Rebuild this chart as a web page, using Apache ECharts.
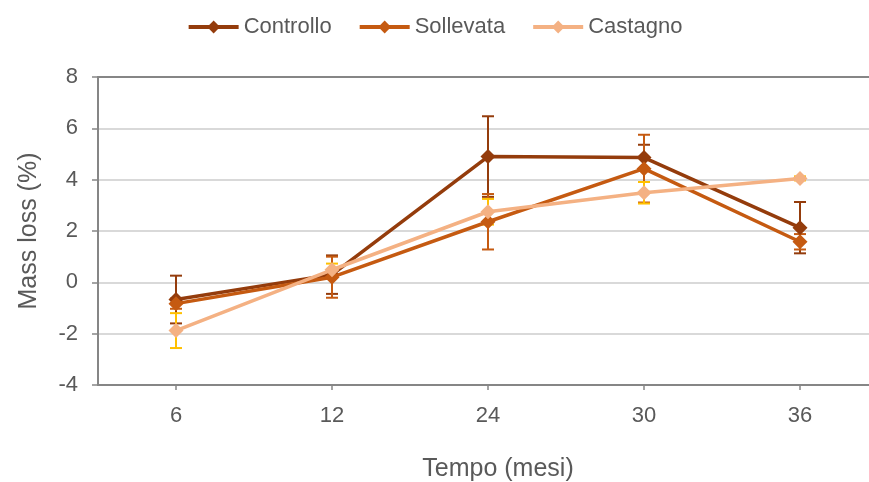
<!DOCTYPE html>
<html>
<head>
<meta charset="utf-8">
<script src="https://cdn.jsdelivr.net/npm/echarts@6/dist/echarts.min.js"></script>
<style>
  html, body { margin: 0; padding: 0; background: #ffffff; }
  #chart { width: 869px; height: 482px; }
</style>
</head>
<body>
<div id="chart"></div>
<script>
// Mass loss over time, three treatments, mean ± error
const categories = ['6', '12', '24', '30', '36'];
const seriesNames = ['Controllo', 'Sollevata', 'Castagno'];

const controllo = [-0.67, 0.30, 4.90, 4.86, 2.13];
const controlloErr = [0.93, 0.75, 1.57, 0.50, 1.00];

const sollevata = [-0.83, 0.20, 2.36, 4.43, 1.58];
const sollevataErr = [0.20, 0.80, 1.08, 1.32, 0.30];

const castagno = [-1.88, 0.49, 2.75, 3.49, 4.05];
const castagnoErr = [0.68, 0.24, 0.50, 0.42, 0.08];

const yTicks = { min: -4, max: 8, interval: 2 };

const lineColors = ['#943C0C', '#C55A11', '#F4B183'];
const errColors = ['#943C0C', '#C55A11', '#FFC000'];
const textColor = '#595959';
const font = 'Liberation Sans, Arial, sans-serif';

const means = [controllo, sollevata, castagno];
const errs = [controlloErr, sollevataErr, castagnoErr];

function errorData(vals, err) {
  return vals.map((v, i) => [i, v - err[i], v + err[i]]);
}

function errorSeries(idx) {
  const color = errColors[idx];
  return {
    type: 'custom',
    name: seriesNames[idx] + ' err',
    xAxisIndex: 0,
    yAxisIndex: 0,
    z: 1,
    silent: true,
    data: errorData(means[idx], errs[idx]),
    encode: { x: 0, y: [1, 2] },
    renderItem: function (params, api) {
      const x = api.value(0);
      const lo = api.coord([x, api.value(1)]);
      const hi = api.coord([x, api.value(2)]);
      const hw = 6;
      const style = { stroke: color, lineWidth: 2 };
      return {
        type: 'group',
        children: [
          { type: 'line', shape: { x1: lo[0], y1: lo[1], x2: hi[0], y2: hi[1] }, style: style },
          { type: 'line', shape: { x1: hi[0] - hw, y1: hi[1], x2: hi[0] + hw, y2: hi[1] }, style: style },
          { type: 'line', shape: { x1: lo[0] - hw, y1: lo[1], x2: lo[0] + hw, y2: lo[1] }, style: style }
        ]
      };
    }
  };
}

function lineSeries(idx) {
  return {
    type: 'line',
    name: seriesNames[idx],
    data: means[idx],
    z: 3 + idx,
    symbol: 'diamond',
    symbolSize: 15,
    lineStyle: { color: lineColors[idx], width: 3.5 },
    itemStyle: { color: lineColors[idx] },
    emphasis: { disabled: true },
    animation: false
  };
}

const chart = echarts.init(document.getElementById('chart'));
chart.setOption({
  animation: false,
  backgroundColor: '#ffffff',
  legend: {
    data: seriesNames,
    top: 11,
    left: 'center',
    itemWidth: 50,
    itemHeight: 16,
    itemGap: 26,
    lineStyle: { width: 4 },
    textStyle: { color: textColor, fontSize: 22, fontFamily: font }
  },
  grid: {
    left: 98, right: -9, top: 77, bottom: 97,
    containLabel: false,
    outerBoundsMode: 'none'
  },
  xAxis: [
    {
      type: 'category',
      data: categories,
      boundaryGap: true,
      name: 'Tempo (mesi)',
      nameLocation: 'middle',
      nameGap: 72,
      nameTextStyle: { color: textColor, fontSize: 25, fontFamily: font, padding: [0, 0, 0, 20] },
      axisLine: { onZero: false, lineStyle: { color: '#868686', width: 2 } },
      axisTick: { show: true, alignWithLabel: true, length: 5, lineStyle: { color: '#868686', width: 1.5 } },
      axisLabel: { color: textColor, fontSize: 22, fontFamily: font, margin: 20 },
      splitLine: { show: false }
    },
    {
      type: 'category',
      data: categories,
      position: 'top',
      axisLine: { onZero: false, lineStyle: { color: '#868686', width: 2 } },
      axisTick: { show: false },
      axisLabel: { show: false },
      splitLine: { show: false }
    }
  ],
  yAxis: {
    type: 'value',
    min: yTicks.min,
    max: yTicks.max,
    interval: yTicks.interval,
    name: 'Mass loss (%)',
    nameLocation: 'middle',
    nameGap: 56,
    nameRotate: 90,
    nameTextStyle: { color: textColor, fontSize: 25, fontFamily: font },
    axisLine: { show: true, onZero: false, lineStyle: { color: '#868686', width: 2 } },
    axisTick: { show: true, length: 6, lineStyle: { color: '#868686', width: 1.5 } },
    axisLabel: { color: textColor, fontSize: 22, fontFamily: font, margin: 20 },
    splitLine: { show: true, lineStyle: { color: '#D9D9D9', width: 2 } }
  },
  series: [
    errorSeries(0), errorSeries(1), errorSeries(2),
    lineSeries(0), lineSeries(1), lineSeries(2)
  ]
});
</script>
</body>
</html>
